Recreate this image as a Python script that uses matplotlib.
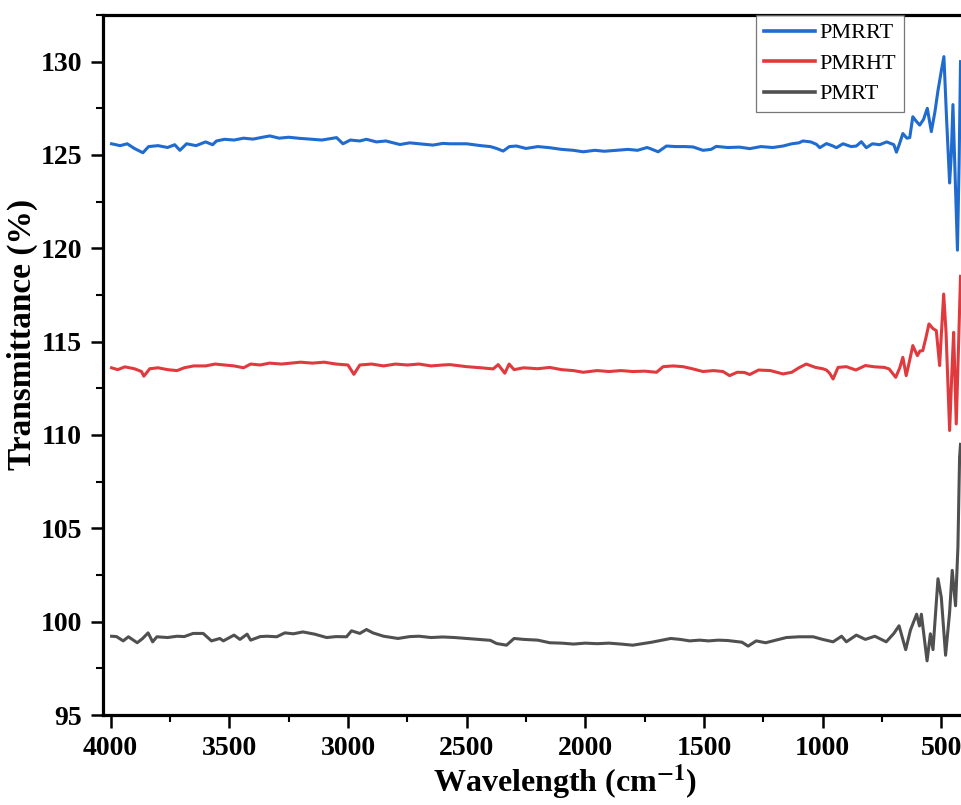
import matplotlib
matplotlib.use('Agg')
import matplotlib.pyplot as plt
from matplotlib.ticker import MultipleLocator

# wavenumber (cm-1) / transmittance (%)
wn_pmrrt = [3996, 3960, 3930, 3900, 3864, 3840, 3800, 3760, 3730, 3708, 3680, 3640, 3600, 3570, 3554,
            3520, 3480, 3440, 3400, 3360, 3329, 3290, 3250, 3203, 3160, 3110, 3048, 3021, 2990, 2950,
            2922, 2880, 2840, 2781, 2740, 2700, 2642, 2600, 2571, 2500, 2440, 2400, 2374, 2346, 2320,
            2290, 2250, 2200, 2150, 2100, 2050, 2009, 1960, 1920, 1869, 1820, 1780, 1740, 1728, 1693,
            1658, 1620, 1580, 1546, 1504, 1470, 1448, 1400, 1350, 1307, 1260, 1210, 1167, 1130, 1100,
            1083, 1050, 1026, 1012, 984, 960, 942, 914, 880, 858, 837, 816, 790, 760, 730,
            700, 689, 676, 662, 645, 633, 620, 605, 591, 575, 559, 542, 527, 514, 500,
            489, 478, 465, 458, 451, 442, 432, 425, 419]
t_pmrrt = [125.6, 125.5, 125.6, 125.35, 125.12, 125.45, 125.5, 125.4, 125.55, 125.25, 125.6, 125.5, 125.7, 125.55, 125.75,
           125.84, 125.8, 125.9, 125.85, 125.95, 126.02, 125.9, 125.95, 125.89, 125.85, 125.8, 125.93, 125.6, 125.8, 125.75,
           125.84, 125.7, 125.75, 125.56, 125.65, 125.6, 125.53, 125.62, 125.6, 125.6, 125.5, 125.45, 125.35, 125.21, 125.45,
           125.48, 125.35, 125.45, 125.39, 125.3, 125.25, 125.17, 125.25, 125.2, 125.25, 125.3, 125.25, 125.4, 125.35, 125.17,
           125.48, 125.45, 125.45, 125.43, 125.25, 125.3, 125.46, 125.4, 125.42, 125.34, 125.45, 125.4, 125.48, 125.6, 125.65,
           125.75, 125.7, 125.57, 125.39, 125.61, 125.5, 125.39, 125.6, 125.45, 125.48, 125.71, 125.39, 125.6, 125.55, 125.7,
           125.55, 125.15, 125.6, 126.15, 125.9, 125.93, 127.05, 126.8, 126.6, 126.9, 127.5, 126.25, 127.3, 128.45, 129.5,
           130.27, 127.0, 123.5, 125.0, 127.7, 124.0, 119.9, 124.5, 130.0]

wn_pmrht = [3996, 3970, 3940, 3900, 3870, 3860, 3835, 3800, 3760, 3720, 3690, 3650, 3600, 3560, 3520,
            3480, 3440, 3410, 3370, 3330, 3280, 3240, 3200, 3150, 3100, 3050, 3000, 2975, 2950, 2900,
            2850, 2800, 2750, 2700, 2650, 2600, 2571, 2500, 2440, 2388, 2367, 2339, 2321, 2300, 2260,
            2200, 2150, 2100, 2050, 2009, 1950, 1900, 1850, 1800, 1750, 1700, 1672, 1630, 1588, 1550,
            1504, 1460, 1420, 1392, 1360, 1330, 1307, 1270, 1220, 1167, 1130, 1100, 1069, 1030, 1000,
            984, 970, 956, 935, 900, 860, 820, 780, 740, 720, 692, 675, 662, 648, 635,
            620, 601, 590, 578, 565, 552, 535, 521, 507, 498, 490, 480, 465, 455, 448,
            437, 428, 419]
t_pmrht = [113.6, 113.5, 113.65, 113.55, 113.4, 113.15, 113.55, 113.6, 113.5, 113.45, 113.6, 113.7, 113.7, 113.8, 113.75,
           113.7, 113.6, 113.8, 113.75, 113.85, 113.8, 113.85, 113.9, 113.85, 113.9, 113.8, 113.75, 113.25, 113.75, 113.8,
           113.7, 113.8, 113.75, 113.8, 113.7, 113.75, 113.77, 113.66, 113.6, 113.54, 113.77, 113.31, 113.8, 113.5, 113.6,
           113.55, 113.62, 113.5, 113.45, 113.36, 113.45, 113.4, 113.45, 113.4, 113.42, 113.36, 113.66, 113.7, 113.66, 113.55,
           113.4, 113.45, 113.4, 113.18, 113.36, 113.35, 113.24, 113.48, 113.45, 113.27, 113.36, 113.6, 113.8, 113.62, 113.55,
           113.48, 113.3, 113.0, 113.62, 113.66, 113.48, 113.72, 113.65, 113.62, 113.54, 113.09, 113.6, 114.16, 113.18, 113.9,
           114.79, 114.25, 114.5, 114.52, 115.2, 115.95, 115.7, 115.59, 113.72, 115.8, 117.55, 115.5, 110.24, 113.5, 115.5,
           110.59, 114.5, 118.5]

wn_pmrt = [3996, 3975, 3947, 3925, 3888, 3865, 3842, 3823, 3805, 3760, 3720, 3690, 3652, 3610, 3575,
           3540, 3525, 3480, 3455, 3425, 3410, 3370, 3340, 3300, 3266, 3230, 3190, 3140, 3090, 3050,
           3006, 2985, 2950, 2922, 2895, 2850, 2789, 2740, 2700, 2650, 2600, 2550, 2500, 2450, 2400,
           2374, 2332, 2300, 2260, 2200, 2150, 2100, 2050, 2000, 1950, 1900, 1850, 1800, 1760, 1720,
           1680, 1640, 1600, 1560, 1518, 1480, 1440, 1400, 1340, 1314, 1280, 1240, 1200, 1153, 1100,
           1040, 1000, 956, 920, 900, 858, 820, 780, 732, 700, 678, 650, 630, 604, 592,
           584, 560, 546, 535, 514, 500, 482, 465, 454, 440, 430, 423, 419]
t_pmrt = [99.22, 99.2, 98.97, 99.19, 98.87, 99.1, 99.4, 98.92, 99.19, 99.15, 99.22, 99.2, 99.37, 99.37, 98.97,
          99.1, 98.97, 99.28, 99.05, 99.33, 99.01, 99.2, 99.22, 99.19, 99.4, 99.35, 99.45, 99.33, 99.15, 99.2,
          99.19, 99.51, 99.37, 99.58, 99.4, 99.22, 99.1, 99.2, 99.22, 99.15, 99.18, 99.15, 99.1, 99.05, 99.0,
          98.83, 98.74, 99.1, 99.05, 99.01, 98.87, 98.85, 98.8, 98.85, 98.82, 98.85, 98.8, 98.74, 98.82, 98.9,
          99.0, 99.1, 99.05, 98.97, 99.01, 98.97, 99.01, 98.99, 98.9, 98.69, 98.97, 98.87, 99.0, 99.15, 99.19,
          99.19, 99.05, 98.92, 99.22, 98.92, 99.28, 99.05, 99.22, 98.92, 99.37, 99.78, 98.5, 99.55, 100.4, 99.77,
          100.4, 97.9, 99.35, 98.5, 102.3, 101.3, 98.2, 100.5, 102.75, 100.85, 104.0, 108.8, 109.5]

plt.rcParams['font.family'] = 'Liberation Serif'
plt.rcParams['mathtext.fontset'] = 'stix'

fig = plt.figure(figsize=(9.61, 8.05), dpi=100)
ax = fig.add_axes([0.1072, 0.1118, 0.897, 0.8696])

ax.plot(wn_pmrrt, t_pmrrt, color='#1f6bd0', linewidth=2.2, label='PMRRT')
ax.plot(wn_pmrht, t_pmrht, color='#e03a3e', linewidth=2.2, label='PMRHT')
ax.plot(wn_pmrt, t_pmrt, color='#505050', linewidth=2.2, label='PMRT')

ax.set_xlim(4032, 400)
ax.set_ylim(95, 132.5)

ax.xaxis.set_major_locator(MultipleLocator(500))
ax.xaxis.set_minor_locator(MultipleLocator(250))
ax.yaxis.set_major_locator(MultipleLocator(5))
ax.yaxis.set_minor_locator(MultipleLocator(2.5))

ax.tick_params(which='major', direction='out', length=9, width=1.8, labelsize=20, pad=6)
ax.tick_params(which='minor', direction='out', length=5, width=1.5)
for lab in ax.get_xticklabels() + ax.get_yticklabels():
    lab.set_fontweight('bold')

for s in ax.spines.values():
    s.set_linewidth(2.3)

ax.set_xlabel('Wavelength (cm$^{\\mathbf{-1}}$)', fontsize=23, fontweight='bold')
ax.set_ylabel('Transmittance (%)', fontsize=24, fontweight='bold')
ax.xaxis.set_label_coords(0.536, -0.068)
ax.yaxis.set_label_coords(-0.076, 0.543)

leg = ax.legend(loc='upper right', bbox_to_anchor=(904 / 961, 1 - 15 / 805),
                bbox_transform=fig.transFigure, fontsize=16, frameon=True, fancybox=False,
                handlelength=2.3, labelspacing=0.45, borderpad=0.35, handletextpad=0.2,
                borderaxespad=0)
leg.get_frame().set_edgecolor('#555555')
leg.get_frame().set_linewidth(0.9)
for line in leg.get_lines():
    line.set_linewidth(2.6)

fig.savefig('out.png', dpi=100)
